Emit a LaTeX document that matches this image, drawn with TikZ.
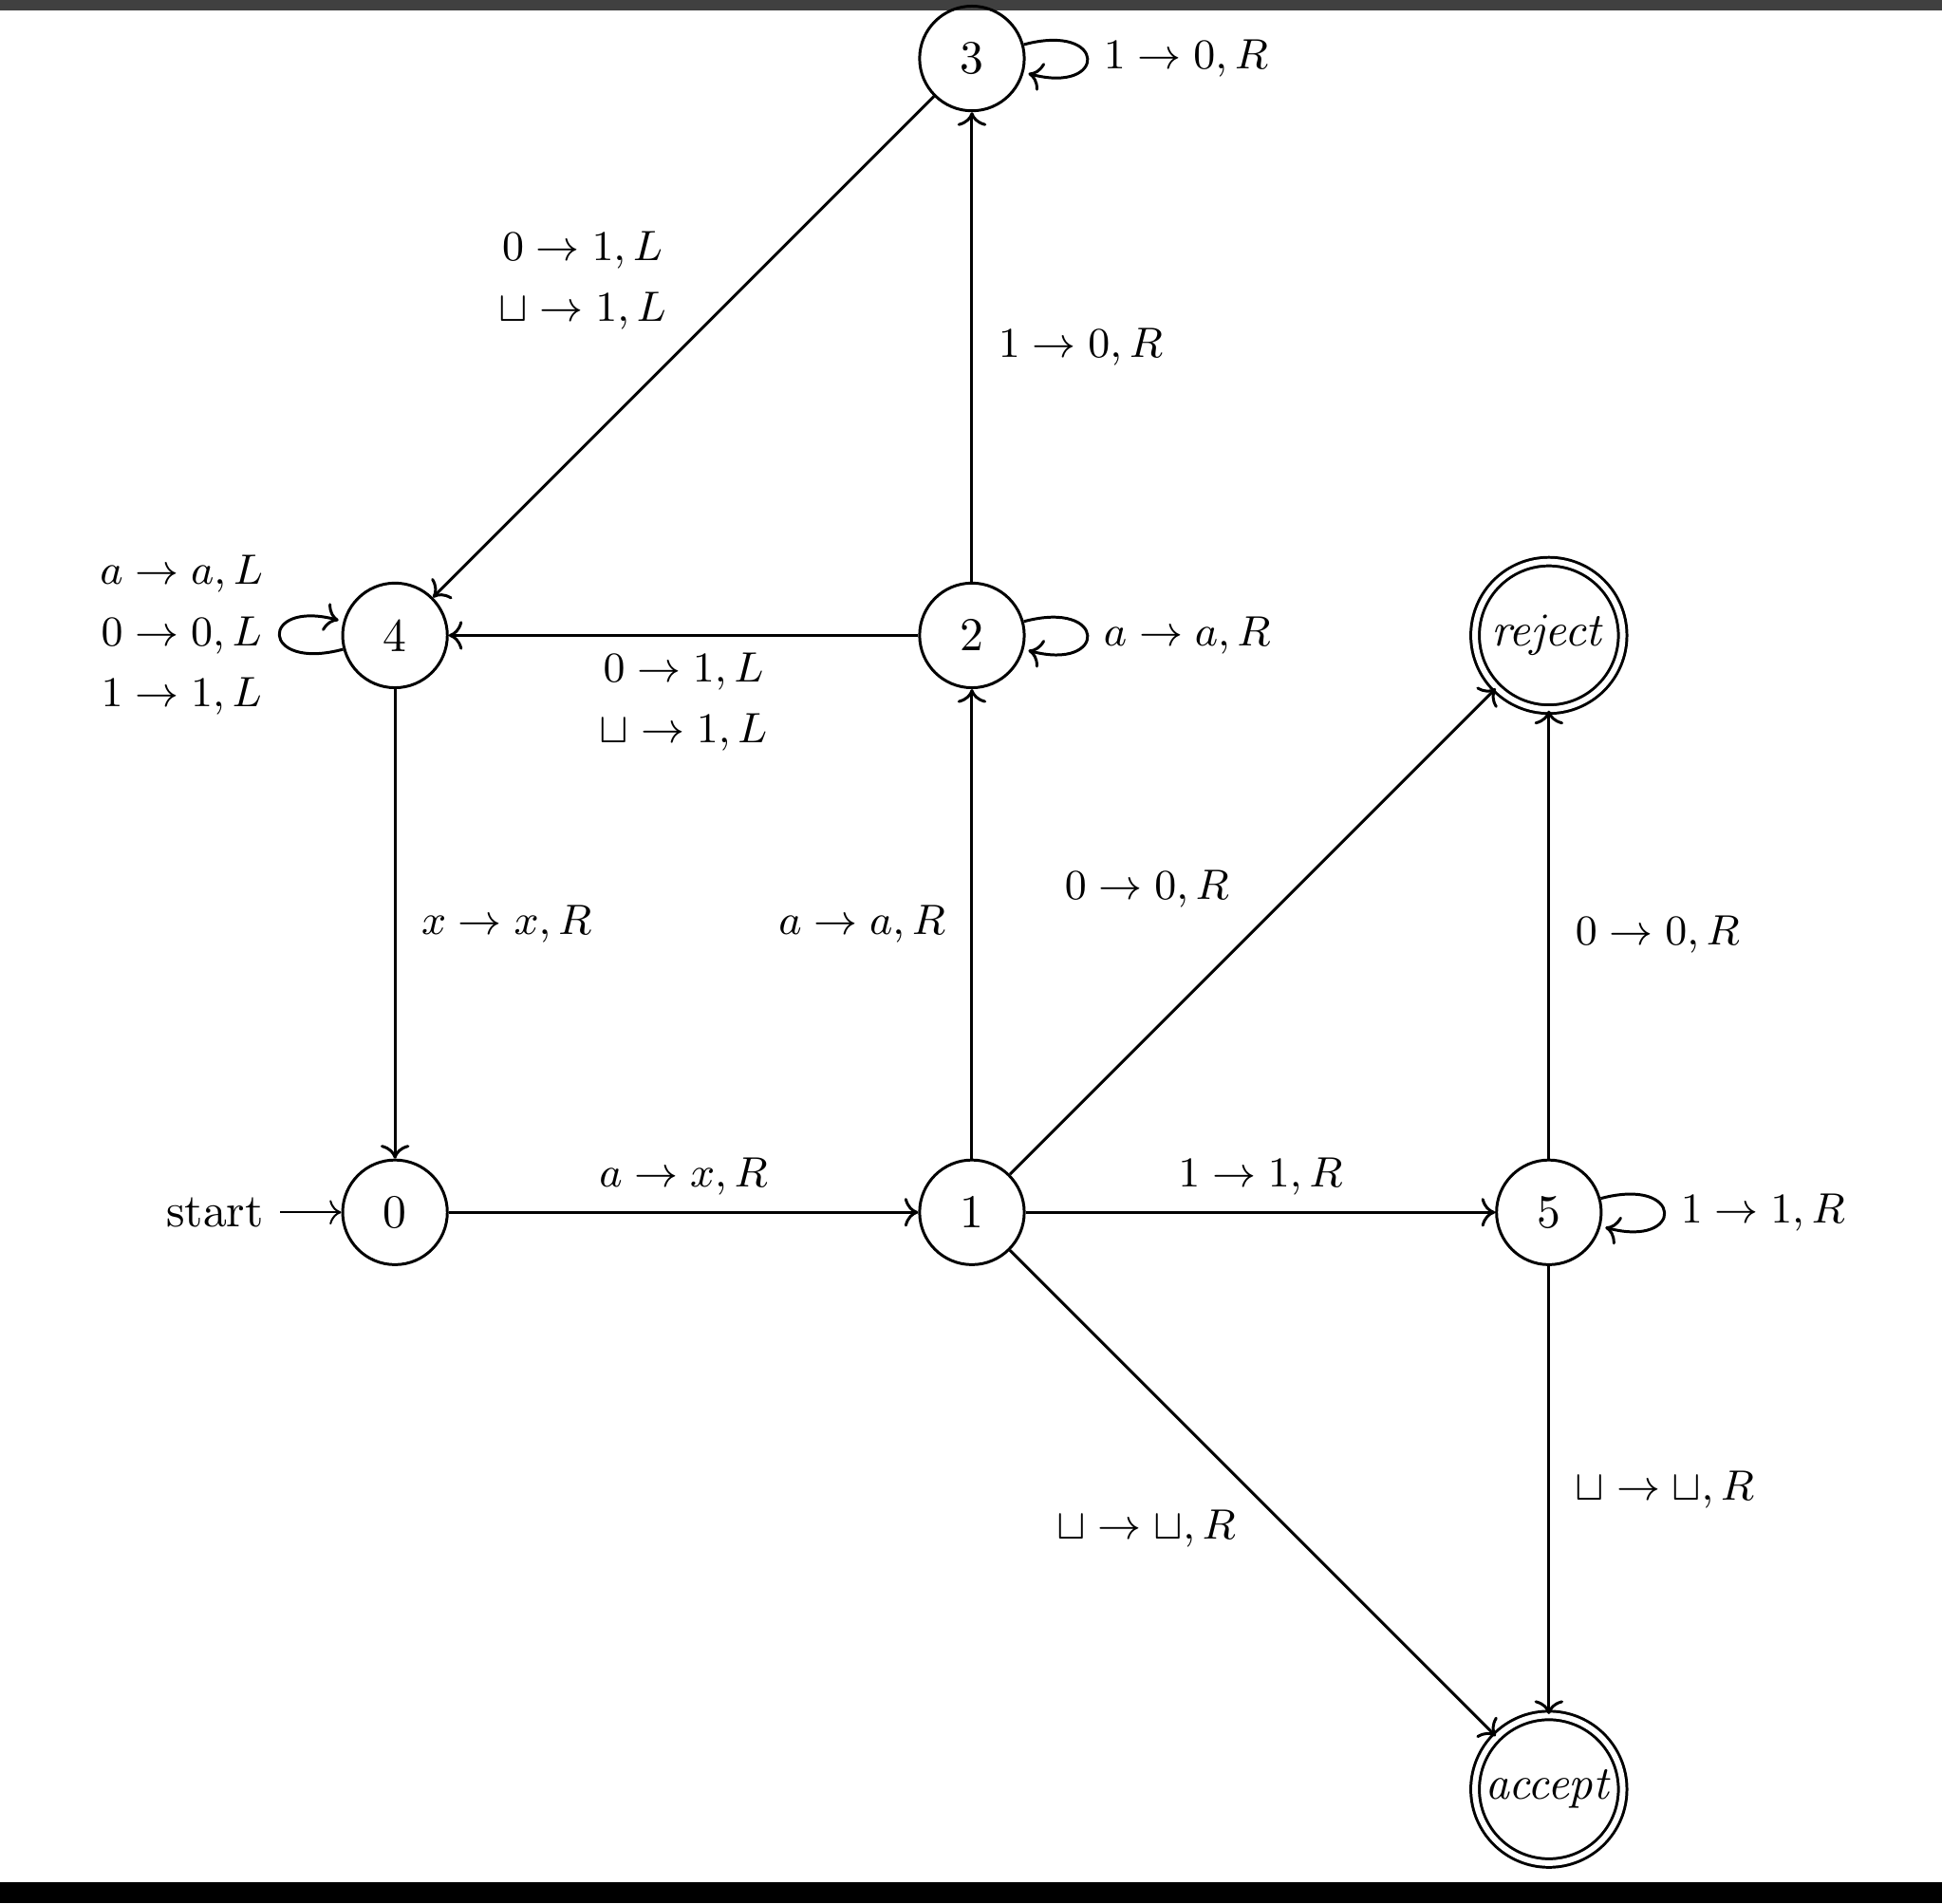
\documentclass[tikz,border=0pt]{standalone}
\usepackage{amsmath,amssymb}
\usetikzlibrary{automata,positioning,arrows.meta}

\begin{document}
\begin{tikzpicture}[
        >=To,
        node distance=4.3cm,
        on grid,
        every state/.style={
            circle,
            draw,
            semithick,
            minimum size=0.78cm,
            inner sep=1pt,
        },
        final/.style={
            double,
            double distance=1.2pt,
            minimum size=1.1cm,
        },
        edge/.style={
            ->,
            semithick,
        },
        mylabel/.style={
            font=\small,
            align=center,
        },
    ]

    % Frame of the screenshot
    \useasboundingbox (-2.944,-5.15) rectangle (11.53,9.036);
    \fill [black!75] (-2.944,8.96) rectangle (11.53,9.036);
    \fill [black] (-2.944,-5.15) rectangle (11.53,-4.99);

    % States
    \node [state, initial, initial text=start] (q0) at (0,0) {0};
    \node [state] (q1) [right=of q0] {1};
    \node [state] (q5) [right=of q1] {5};
    \node [state] (q2) [above=of q1] {2};
    \node [state] (q4) [above=of q0] {4};
    \node [state] (q3) [above=of q2] {3};
    \node [state, final] (rej) [above=of q5] {$\mathit{reject}$};
    \node [state, final] (acc) [below=of q5] {$\mathit{accept}$};

    % Transitions
    \draw [edge] (q0) -- node [mylabel, above] {$a\to x,R$} (q1);
    \draw [edge] (q1) -- node [mylabel, left=2pt] {$a\to a,R$} (q2);
    \draw [edge] (q2) -- node [mylabel, right=2pt] {$1\to 0,R$} (q3);
    \draw [edge] (q3) -- node [mylabel, above left, pos=0.5] {$0\to 1,L$\\[2pt]$\sqcup\to 1,L$} (q4);
    \draw [edge] (q2) -- node [mylabel, below] {$0\to 1,L$\\[2pt]$\sqcup\to 1,L$} (q4);
    \draw [edge] (q4) -- node [mylabel, right=2pt] {$x\to x,R$} (q0);
    \draw [edge] (q1) -- node [mylabel, above left=2pt, pos=0.5] {$0\to 0,R$} (rej);
    \draw [edge] (q1) -- node [mylabel, above] {$1\to 1,R$} (q5);
    \draw [edge] (q5) -- node [mylabel, right=2pt] {$0\to 0,R$} (rej);
    \draw [edge] (q1) -- node [mylabel, below left, pos=0.5] {$\sqcup\to\sqcup,R$} (acc);
    \draw [edge] (q5) -- node [mylabel, right=2pt] {$\sqcup\to\sqcup,R$} (acc);

    % Loops
    \draw [edge] (q3) edge [loop right] node [mylabel, right] {$1\to 0,R$} (q3);
    \draw [edge] (q2) edge [loop right] node [mylabel, right] {$a\to a,R$} (q2);
    \draw [edge] (q5) edge [loop right] node [mylabel, right] {$1\to 1,R$} (q5);
    \draw [edge] (q4) edge [loop left] node [mylabel, left] {$a\to a,L$\\[2pt]$0\to 0,L$\\[2pt]$1\to 1,L$} (q4);

\end{tikzpicture}
\end{document}
